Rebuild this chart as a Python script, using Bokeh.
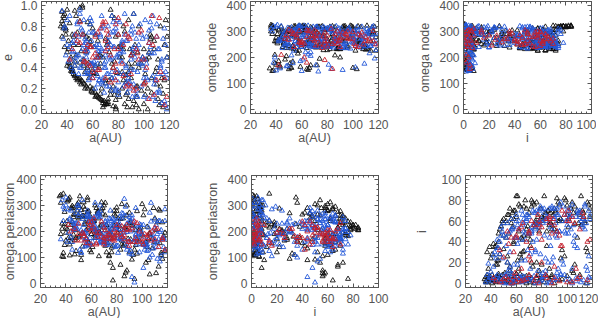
from bokeh.plotting import figure
from bokeh.models import LinearAxis, FixedTicker, PrintfTickFormatter
from bokeh.layouts import column, row
from bokeh.embed import file_html
from bokeh.resources import INLINE

black_a = [36,38,41,44,37,47,52,58,64,71, 35,37,39,43,40,46,50,56,62,69, 38,42,46,50,39,88,54,60,66,75, 36,40,45,52,42,49,83,59,68,78,
 37,41,48,55,44,52,57,63,72,83, 39,44,51,60,45,50,55,65,74,87, 42,47,56,65,47,53,61,70,80,92, 43,49,58,68,46,92,106,73,85,96,
 46,53,62,72,50,58,67,77,90,100, 48,57,66,78,53,77,69,82,94,104, 51,60,70,84,55,62,75,88,98,108, 54,64,76,90,58,87,79,91,102,111,
 59,68,82,96,62,70,84,95,106,114, 63,74,88,103,66,72,86,99,109,116, 67,80,94,110,72,76,89,101,112,117, 71,86,100,115,78,81,93,105,113,118,
 40,45,50,55,60,65,70,75,80,85, 90,95,100,105,110,115,38,43,48,53, 58,63,68,73,78,83,88,93,98,103, 108,113,36,41,46,51,56,61,66,71, 76,81,86,91,96,101,106,111,116,118, 44,54,64,74,84,94,104,114,57,77]
black_e = [.85,.92,.45,.38,.78,.30,.98,.22,.12,.05, .80,.90,.72,.40,.96,.33,.26,.84,.16,.04, .88,.44,.95,.30,.76,.36,.24,.20,.10,.30, .94,.42,.34,.27,.83,.62,.50,.18,.02,.00,
 .82,.66,.30,.22,.39,1.0,.45,.14,.07,.20, .78,.36,.28,.16,.70,.98,.55,.40,.96,.02, .41,.90,.20,.11,.52,.72,.35,.25,.16,.08, .37,.29,.60,.06,.42,.92,.30,.55,.05,.00,
 .32,.25,.42,.10,.85,.65,.20,.46,.30,.05, .28,.68,.15,.02,.48,.14,.08,.60,.12,.55, .24,.78,.06,.28,.58,.12,.90,.44,.18,.66, .20,.50,.03,.52,.34,.16,.35,.02,.48,.10,
 .17,.08,.62,.40,.72,.28,.80,.22,.70,.30, .13,.18,.10,.00,.52,.05,.26,.50,.36,.62, .09,.72,.04,.24,.65,.40,.58,.14,.04,.86, .05,.33,.58,.02,.09,.12,.44,.68,.22,.50,
 .55,.62,.45,.70,.38,.52,.68,.44,.60,.75, .40,.55,.25,.72,.40,.15,.60,.50,.74,.42, .82,.34,.50,.28,.70,.36,.86,.62,.44,.20, .58,.80,.70,.58,.46,.56,.40,.60,.44,.62, .22,.50,.14,.54,.80,.34,.16,.48,.28,.70, .72,.36,.66,.14,.58,.22,.50,.06,.30,.88]
black_i = [2,5,8,1,30,52,60,38,44,42, 4,1,7,3,24,48,58,62,50,55, 6,2,9,4,35,56,66,84,46,60, 1,3,6,2,38,60,68,70,52,58,
 8,0,4,1,36,44,54,74,80,62, 3,6,2,9,18,62,72,42,76,68, 5,1,7,3,28,66,84,48,64,82, 2,8,4,0,22,50,57,78,70,60,
 7,3,1,5,33,70,80,58,72,66, 4,0,6,2,26,64,46,84,60,78, 1,9,3,7,16,76,54,52,82,70, 6,2,5,0,40,58,72,68,64,84,
 3,7,1,4,14,68,50,62,74,60, 9,0,6,2,31,74,56,80,58,78, 2,5,3,8,20,78,66,54,70,76, 1,4,7,0,12,62,78,68,64,72,
 4,22,46,12,64,30,7,58,18,70, 52,24,75,10,66,34,14,35,55,20, 62,28,72,16,50,66,8,60,26,72, 44,68,6,28,40,10,58,22,74,36, 20,60,14,70,32,62,18,56,30,64, 18,48,24,56,36,76,12,58,68,8]
black_node = [300,150,262,318, 290,248,285,262,236,304, 158,322,210,168, 275,258,312,240,296,268, 312,186,300,155, 262,234,280,318,252,238, 325,172,240,160, 304,272,246,296,262,310,
 148,290,205,315, 282,235,312,252,316,262, 178,268,162,240, 298,288,320,250,318,232, 308,192,280,152, 270,244,322,296,228,318, 162,298,226,312, 254,262,280,318,306,238,
 255,184,318,170, 302,322,316,240,232,292, 296,215,160,282, 244,228,276,318,262,320, 178,306,248,320, 286,316,250,236,322,232, 320,156,282,200, 268,272,306,296,226,322,
 164,294,232,310, 252,240,288,274,316,262, 305,195,278,155, 280,318,262,320,244,300, 170,270,312,230, 296,320,238,270,232,318, 290,208,160,316, 262,240,320,256,298,226,
 262,300,244,286,318,270,240,296,258,282, 232,306,316,268,250,290,312,274,236,298, 256,320,284,246,304,266,232,310,276,260, 240,292,318,254,282,312,226,300,264,238, 288,250,316,272,244,306,258,234,296,278, 270,232,312,248,290,320,264,226,296,246]
black_peri = [310,118,240,178, 210,265,282,218,290,145, 335,105,275,150, 195,255,298,175,240,290, 102,320,188,262, 228,50,295,212,270,185, 340,165,298,110, 175,305,72,260,205,280,
 230,315,125,285, 160,90,320,185,225,248, 148,290,335,190, 235,312,255,272,198,215, 325,112,205,278, 168,260,215,170,292,225, 108,280,160,312, 210,92,35,205,250,278,
 292,142,245,120, 180,278,222,145,232,190, 175,330,105,265, 192,12,268,205,160,218, 255,120,300,150, 228,238,80,300,210,172, 312,195,138,272, 155,42,260,235,285,205,
 128,285,222,170, 242,215,305,148,195,280, 300,108,262,160, 200,225,28,215,290,235, 195,278,130,250, 170,210,172,262,235,182, 262,150,305,118, 222,250,220,170,285,195,
 215,288,250,235,190,270,160,175,220,145, 120,205,185,90,160,110,345,330,205,195, 240,175,225,155,180,130,210,110,165,80, 135,65,190,210,265,185,170,140,250,310, 120,195,215,170,115,150,190,40,95,125, 225,260,200,105,165,18,140,155,275,60]

blue_a = [38,44,50,56,42,48,54,60,66,72, 40,46,52,58,45,50,56,62,68,76, 36,48,55,63,47,53,59,65,72,80, 39,51,60,68,49,55,61,67,75,84,
 41,53,64,74,52,57,63,70,78,88, 43,56,67,80,55,60,66,73,82,92, 45,58,71,86,58,92,69,76,86,96, 47,61,75,92,61,65,72,79,90,100,
 49,64,79,98,64,68,75,83,94,104, 52,67,83,104,67,101,78,87,98,107, 54,70,87,109,71,74,81,91,102,110, 57,73,91,113,75,78,85,95,105,112,
 59,77,95,116,79,82,89,99,108,114, 62,81,99,118,83,86,93,103,110,115, 65,84,102,111,88,90,97,106,112,117, 69,90,107,117,92,94,101,109,114,118,
 37,42,47,52,57,62,67,72,77,82, 87,92,97,102,107,112,117,40,45,50, 55,60,65,70,75,80,85,90,95,100, 105,110,115,44,49,54,59,64,69,74, 79,84,89,94,99,104,109,114,118,38, 46,51,56,61,66,71,76,81,86,91, 96,101,106,111,116,43,48,53,58,63, 68,73,78,83,88,93,98,103,108,113]
blue_e = [.78,.55,.92,.35,.90,.52,.68,.44,.70,.34, .62,.72,.48,.88,.56,.96,.38,.60,.30,.75, .95,.82,.66,.50,.64,.44,.85,.28,.62,.18, .52,.40,.74,.24,.70,.58,.46,.90,.36,.55,
 .46,.86,.32,.48,.76,.34,.62,.52,.78,.30, .40,.60,.78,.14,.50,.42,.72,.22,.58,.92, .36,.30,.58,.66,.82,.54,.40,.84,.26,.44, .50,.74,.18,.38,.60,.28,.66,.50,.72,.12,
 .34,.56,.86,.22,.44,.80,.30,.62,.18,.54, .72,.26,.46,.64,.58,.38,.74,.16,.48,.90, .64,.40,.24,.08,.34,.62,.54,.80,.30,.70, .28,.70,.58,.42,.50,.20,.92,.36,.60,.16,
 .44,.60,.12,.78,.38,.56,.26,.68,.24,.48, .20,.34,.50,.30,.66,.42,.74,.10,.82,.34, .56,.22,.70,.58,.26,.76,.44,.54,.18,.62, .16,.48,.32,.04,.60,.14,.86,.28,.46,.00,
 .68,.60,.46,.58,.74,.40,.56,.80,.30,.46, .66,.24,.82,.44,.12,.58,.36,.86,.66,.40, .54,.30,.62,.46,.90,.26,.72,.38,.58,.30, .84,.16,.68,.64,.52,.34,.66,.24,.44,.74, .52,.34,.20,.68,.42,.76,.28,.06,.50,.80, .42,.78,.56,.36,.50,.22,.60,.84,.40,.12, .62,.48,.78,.34,.08,.48,.84,.62,.44,.72, .28,.50,.18,.64,.34,.50,.72,.28,.54,.40]
blue_i = [3,6,1,9,27,54,48,44,58,50, 5,2,8,0,34,46,62,52,60,42, 1,7,3,5,40,58,44,66,54,72, 6,0,4,2,24,50,56,48,68,62,
 2,9,1,7,36,52,42,64,58,74, 4,0,6,3,30,60,50,70,46,66, 8,2,5,1,18,44,66,56,72,60, 3,7,0,4,38,56,48,74,62,70,
 1,5,2,8,22,62,52,60,50,76, 6,3,7,0,42,48,70,54,66,64, 0,4,1,5,14,68,58,46,72,68, 9,2,6,3,32,54,64,78,56,62,
 4,1,8,0,28,72,50,60,70,74, 2,6,3,5,12,58,66,52,64,58, 7,0,4,1,20,64,74,46,56,70, 5,3,2,6,10,50,60,68,76,66,
 8,16,28,44,6,60,22,50,12,68, 36,72,18,64,5,54,26,11,42,58, 15,66,4,48,30,62,20,72,9,56, 40,70,16,24,50,13,44,70,32,58, 7,64,25,74,48,14,68,52,62,19, 34,8,52,18,62,28,70,10,44,58, 22,66,36,60,12,30,46,20,54,6, 66,40,60,24,72,14,50,66,34,62]
blue_node = [180,320,250,290, 262,252,305,280,246,318, 150,292,208,318, 300,270,240,310,262,288, 310,166,262,220, 255,294,320,246,286,258, 200,305,148,274, 314,262,240,300,272,246,
 325,178,296,240, 270,318,284,240,262,300, 158,284,220,312, 306,248,296,268,316,238, 236,322,170,266, 252,280,242,306,258,284, 295,192,312,152, 278,262,316,244,296,264,
 168,308,244,282, 298,242,272,312,236,290, 316,206,156,270, 260,300,248,276,306,254, 226,284,320,176, 286,264,240,312,250,294, 300,146,258,216, 246,312,278,256,288,300,
 186,318,236,288, 272,240,296,260,270,244, 322,172,292,228, 304,268,252,316,242,276, 212,302,162,310, 258,292,310,238,284,252, 276,240,318,196, 290,254,270,300,306,262,
 300,268,246,284,318,256,296,272,240,308, 262,288,314,244,276,300,252,318,282,238, 296,264,322,250,286,312,238,270,304,256, 290,244,316,274,258,300,240,284,318,266, 250,296,312,236,278,304,262,244,290,320, 268,308,254,286,242,316,272,296,258,236, 304,276,248,290,320,264,282,240,306,256, 298,270,244,316,260,288,234,302,274,250]
blue_peri = [240,180,300,150, 195,232,256,210,270,178, 330,205,118,255, 160,290,195,245,160,222, 170,270,142,310, 210,248,175,258,190,240, 285,130,225,190, 230,165,210,278,205,250,
 160,320,205,250, 178,280,222,155,245,198, 245,145,300,175, 200,212,262,170,232,262, 130,262,190,325, 150,25,170,240,205,178, 215,160,280,112, 235,268,148,212,255,190,
 300,192,140,228, 185,205,248,172,222,150, 120,255,210,165, 160,60,178,260,195,238, 225,175,295,135, 240,170,222,240,150,210, 265,150,200,240, 195,232,268,185,215,160,
 148,220,290,170, 210,255,160,225,188,240, 255,118,190,285, 175,195,235,150,245,205, 205,270,148,225, 230,165,210,272,190,175, 160,240,310,140, 250,4,225,170,198,240,
 320,285,230,205,260,225,190,215,250,170, 145,210,165,130,185,95,170,300,240,260, 195,235,180,220,200,145,175,115,190,150, 130,165,105,280,210,190,240,175,225,160, 215,185,140,170,205,125,155,85,120,295, 230,270,175,210,155,235,190,145,165,125, 150,180,100,140,175,250,215,195,245,205, 170,230,150,195,130,160,120,145,110,170]

red_a = [44,52,60,68,50,56,62,70,78,86, 42,56,66,76,54,60,68,74,84,92, 48,62,74,88,58,64,72,80,90,98, 54,70,84,100,64,70,78,86,96,106, 58,78,94,108,72,78,86,94,104,112, 64,90,104,116,80,88,96,102,110,116,
 47,53,59,65,71,77,83,89,95,101, 107,113,50,60,70,80,90,100,110,118]
red_e = [.58,.72,.50,.84,.64,.44,.70,.30,.82,.22, .48,.62,.78,.40,.56,.36,.82,.52,.62,.18, .66,.54,.26,.70,.42,.74,.60,.88,.34,.76, .46,.84,.32,.24,.50,.66,.36,.72,.48,.90, .60,.28,.58,.14,.72,.44,.82,.20,.64,.88, .38,.52,.10,.30,.58,.24,.74,.40,.28,.04,
 .72,.46,.60,.38,.76,.58,.44,.68,.54,.26, .62,.36,.84,.30,.56,.72,.22,.48,.70,.12]
red_i = [2,6,1,4,25,44,52,48,60,58, 5,0,3,7,38,46,40,56,62,50, 1,4,2,0,30,54,60,42,56,66, 3,8,5,1,14,50,48,64,70,58, 6,0,2,4,34,56,62,46,64,68, 2,5,1,3,20,48,36,60,52,40,
 32,50,10,58,22,66,8,62,36,70, 14,64,4,44,26,54,16,60,6,42]
red_node = [210,300,262,285, 268,286,254,304,262,276, 170,276,302,236, 292,248,270,284,252,296, 286,200,252,300, 258,278,296,262,240,270, 240,284,156,272, 304,264,250,290,272,284, 302,190,290,250, 270,296,258,276,288,262, 180,268,240,302, 284,252,300,244,278,262,
 272,290,256,300,246,280,310,264,288,252, 296,270,306,258,284,242,276,298,264,250]
red_peri = [200,165,235,180, 190,170,215,160,205,185, 225,155,195,170, 182,150,238,190,178,212, 165,250,185,210, 210,195,172,225,160,200, 190,150,220,170, 155,215,185,170,232,195, 235,175,160,200, 182,165,205,238,175,210, 150,205,185,168, 195,225,160,190,215,175,
 210,195,225,180,205,170,190,160,175,150, 165,140,230,200,175,185,145,160,170,130]

a_ticks = [20, 40, 60, 80, 100, 120]
i_ticks = [0, 20, 40, 60, 80, 100]
angle_ticks = [0, 100, 200, 300, 400]
e_ticks = [0.0, 0.2, 0.4, 0.6, 0.8, 1.0]

GREY = "#555555"
FONT = "Liberation Sans"


def style(ax, ticks, labels=True):
    ax.ticker = FixedTicker(ticks=ticks, minor_ticks=[t0 + (ticks[1] - ticks[0]) * k / 5 for t0 in ticks[:-1] for k in range(1, 5)])
    ax.axis_line_color = GREY
    ax.major_tick_line_color = GREY
    ax.minor_tick_line_color = GREY
    ax.major_tick_in = 4
    ax.major_tick_out = 0
    ax.minor_tick_in = 2
    ax.minor_tick_out = 0
    ax.major_label_text_font = FONT
    ax.major_label_text_color = GREY
    ax.major_label_text_font_size = "12px"
    ax.major_label_standoff = 4
    ax.axis_label_text_font = FONT
    ax.axis_label_text_font_style = "normal"
    ax.axis_label_text_color = GREY
    ax.axis_label_text_font_size = "12.5px"
    if not labels:
        ax.major_label_overrides = {t: "" for t in ticks}
        ax.major_label_standoff = 0


def panel(xkey, ykey, xr, yr, xt, yt, xl, yl, left, right, bottom, top=1, ystand=4):
    p = figure(frame_width=128, frame_height=112, x_range=xr, y_range=yr,
               output_backend="svg", toolbar_location=None,
               min_border_left=left, min_border_right=right, min_border_bottom=bottom, min_border_top=top,
               x_axis_label=xl, y_axis_label=yl)
    p.grid.visible = False
    p.outline_line_color = GREY
    style(p.xaxis[0], xt)
    style(p.yaxis[0], yt)
    p.xaxis[0].major_label_standoff = 6
    p.xaxis[0].axis_label_standoff = -1
    p.yaxis[0].axis_label_standoff = ystand
    if yt is e_ticks:
        p.yaxis[0].formatter = PrintfTickFormatter(format="%.1f")
    ra = LinearAxis()
    style(ra, yt, labels=False)
    ta = LinearAxis()
    style(ta, xt, labels=False)
    p.add_layout(ra, "right")
    p.add_layout(ta, "above")
    for series, c in ((black, "#111111"), (blue, "#2458d8"), (red, "#c4202c")):
        p.scatter(series[xkey], series[ykey], marker="triangle", size=5, fill_alpha=0, line_color=c, line_width=0.9)
    return p


black = dict(a=black_a, e=black_e, i=black_i, n=black_node, w=black_peri)
blue = dict(a=blue_a, e=blue_e, i=blue_i, n=blue_node, w=blue_peri)
red = dict(a=red_a, e=red_e, i=red_i, n=red_node, w=red_peri)

AR = (20, 120)
IR = (0, 100)
NR = (-15, 415)
ER = (-0.04, 1.04)
IY = (-4, 104)

B1, B2 = 61, 27
p1 = panel("a", "e", AR, ER, a_ticks, e_ticks, "a(AU)", "e", 41, 33, B1, ystand=6)
p2 = panel("a", "n", AR, NR, a_ticks, angle_ticks, "a(AU)", "omega node", 43, 37, B1)
p3 = panel("i", "n", IR, NR, i_ticks, angle_ticks, "i", "omega node", 43, 5, B1)
p4 = panel("a", "w", AR, NR, a_ticks, angle_ticks, "a(AU)", "omega periastron", 41, 35, B2, ystand=-4)
p5 = panel("i", "w", IR, NR, i_ticks, angle_ticks, "i", "omega periastron", 43, 34, B2)
p6 = panel("a", "i", AR, IY, a_ticks, i_ticks, "a(AU)", "i", 43, 5, B2, ystand=9)

page = column(row(p1, p2, p3, spacing=0, margin=(0, 0, 0, -1)), row(p4, p5, p6, spacing=0, margin=(0, 0, 0, -1)), spacing=0, margin=(0, 0, 0, 0))
open("out.html", "w").write(file_html(page, INLINE))
